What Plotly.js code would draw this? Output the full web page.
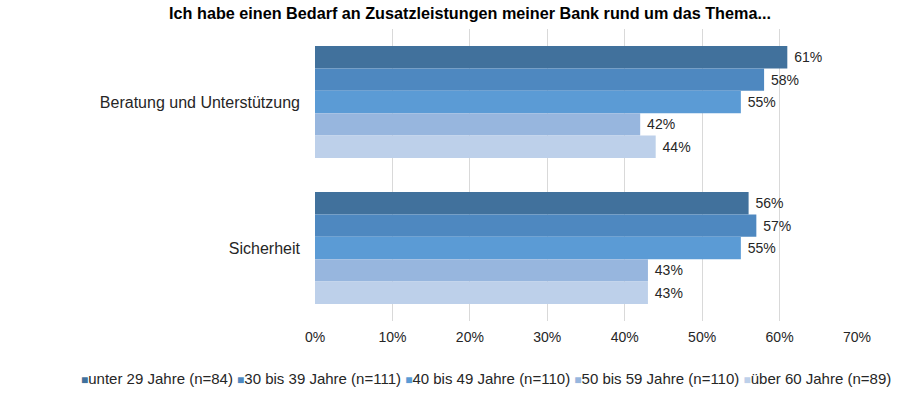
<!DOCTYPE html>
<html>
<head>
<meta charset="utf-8">
<script src="https://cdn.plot.ly/plotly-3.0.1.min.js"></script>
<style>html,body{margin:0;padding:0;background:#fff;}#chart{width:924px;height:393px;}</style>
</head>
<body>
<div id="chart"></div>
<script>
const categories = ["Beratung und Unterstützung", "Sicherheit"];
const seriesNames = ["unter 29 Jahre (n=84)", "30 bis 39 Jahre (n=111)", "40 bis 49 Jahre (n=110)", "50 bis 59 Jahre (n=110)", "über 60 Jahre (n=89)"];
const unter29 = [61, 56];
const bis39 = [58, 57];
const bis49 = [55, 55];
const bis59 = [42, 43];
const ueber60 = [44, 43];
const seriesValues = [unter29, bis39, bis49, bis59, ueber60];
const colors = ["#41719C", "#4E88C0", "#5B9BD5", "#97B6DE", "#BDD0EA"];
const tickVals = [0, 10, 20, 30, 40, 50, 60, 70];
const tickLabels = ["0%", "10%", "20%", "30%", "40%", "50%", "60%", "70%"];

const FONT = "Liberation Sans, Arial, sans-serif";

const traces = seriesValues.map((vals, i) => ({
  type: "bar",
  orientation: "h",
  name: seriesNames[i],
  y: categories,
  x: vals,
  marker: {color: colors[i]},
  text: vals.map(v => "\u00A0" + v + "%"),
  textposition: "outside",
  textfont: {family: FONT, size: 14, color: "#262626"},
  cliponaxis: false,
  hoverinfo: "none",
  showlegend: false
}));

const legendText = seriesNames.map((n, i) =>
  '<span style="color:' + colors[i] + ';font-size:12px">■</span>' + n
).join(" ");

const layout = {
  width: 924, height: 393,
  margin: {l: 315, r: 67, t: 29, b: 72},
  paper_bgcolor: "#fff", plot_bgcolor: "#fff",
  font: {family: FONT, size: 14, color: "#262626"},
  title: {text: "<b>Ich habe einen Bedarf an Zusatzleistungen meiner Bank rund um das Thema...</b>",
          font: {size: 16.2, color: "#000"}, x: 470 / 924, xanchor: "center", xref: "container",
          y: 1 - 8 / 393, yanchor: "top", yref: "container"},
  barmode: "group",
  bargap: 0.233,
  bargroupgap: 0,
  xaxis: {range: [0, 70], tickvals: tickVals, ticktext: tickLabels, showgrid: true, gridcolor: "#D9D9D9",
          zeroline: false, showline: false, ticks: "", tickfont: {size: 14}, ticklabelstandoff: 6, fixedrange: true},
  yaxis: {autorange: "reversed", showgrid: false, zeroline: false, showline: false, ticks: "",
          tickfont: {size: 16}, ticklabelstandoff: 14, automargin: false},
  annotations: [{
    text: legendText, xref: "paper", yref: "paper",
    x: (486 - 315) / 542, y: (321 - 378) / 292, xanchor: "center", yanchor: "middle",
    showarrow: false, font: {family: FONT, size: 15, color: "#262626"}
  }],
  showlegend: false
};

Plotly.newPlot("chart", traces, layout, {displayModeBar: false, staticPlot: true});
</script>
</body>
</html>
